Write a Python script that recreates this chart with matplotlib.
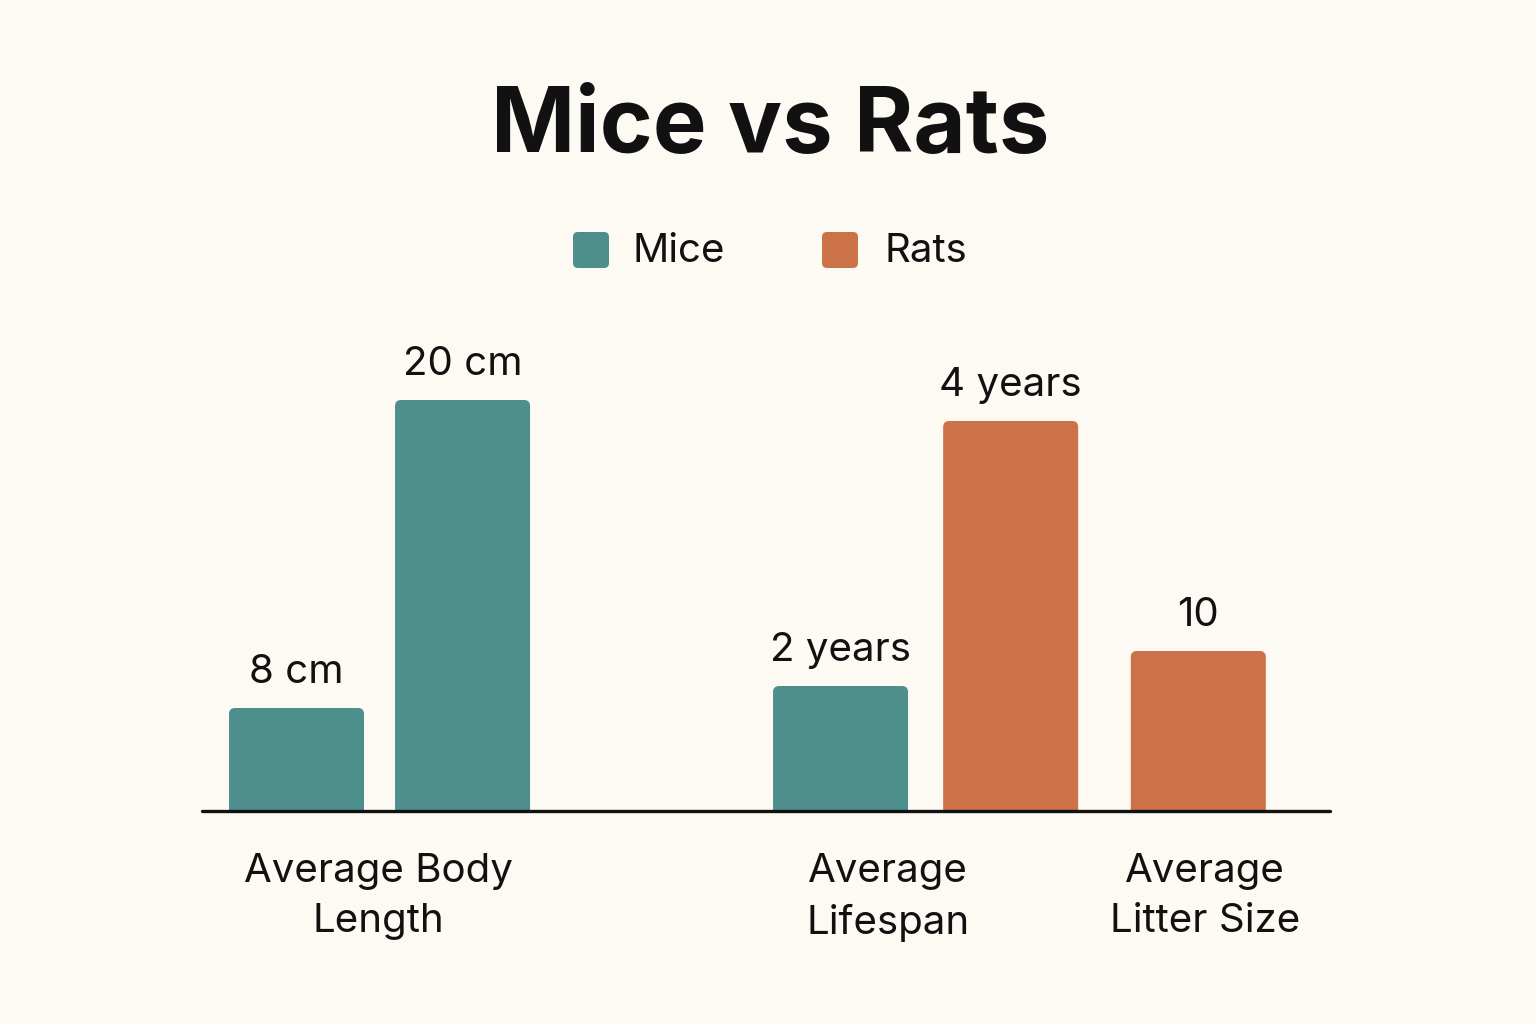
import matplotlib
matplotlib.use('Agg')
import matplotlib.pyplot as plt
from matplotlib.patches import FancyBboxPatch

plt.rcParams['font.family'] = ['Inter', 'DejaVu Sans']

# --- data ---
categories = ['Average Body\nLength', 'Average\nLifespan', 'Average\nLitter Size']
series = ['Mice', 'Rats']
bar_series = ['Mice', 'Mice', 'Mice', 'Rats', 'Rats']
bar_labels = ['8 cm', '20 cm', '2 years', '4 years', '10']
bar_heights = [103, 411, 125, 390, 160]   # drawn heights (not to a common scale)

# --- layout / style ---
BG = '#FDFAF4'
colors = {'Mice': '#4E8F8D', 'Rats': '#CB7249'}
bar_x = [0.70, 1.93, 4.73, 5.99, 7.38]
cat_x = [1.31, 5.08, 7.43]
W, H = 1536, 1024
ax_left, ax_right, ax_base, ax_top = 202, 1330, 811, 300
px_x = 1 / 135.0   # x data units per pixel

fig = plt.figure(figsize=(W / 100, H / 100), dpi=100, facecolor=BG)
ax = fig.add_axes([ax_left / W, 1 - ax_base / H, (ax_right - ax_left) / W, (ax_base - ax_top) / H])
ax.set_facecolor(BG)
ax.set_xlim(0, (ax_right - ax_left) * px_x)
ax.set_ylim(0, ax_base - ax_top)
ax.axis('off')

r = 6
for x, h, s, lab in zip(bar_x, bar_heights, bar_series, bar_labels):
    bars = ax.bar(x, h + 12, bottom=-12, width=1.0, color=colors[s])
    rect = bars[0]
    rect.set_visible(False)
    p = FancyBboxPatch((rect.get_x(), -12), rect.get_width(), h + 12,
                       boxstyle=f'round,pad=0,rounding_size={r * px_x}',
                       mutation_aspect=1 / px_x, fc=colors[s], ec='none')
    ax.add_patch(p)
    ax.text(x, h + 25, lab, ha='center', va='baseline', fontsize=29, color='#111111')

ax.plot([0, (ax_right - ax_left) * px_x], [0, 0], color='#111111', lw=2.4,
        solid_capstyle='round', clip_on=False, zorder=5)

for x, c in zip(cat_x, categories):
    ax.text(x, -42, c, ha='center', va='top', fontsize=29, color='#111111',
            linespacing=1.45, clip_on=False)

fig.text(770 / W, 1 - 152 / H, 'Mice vs Rats', ha='center', va='baseline',
         fontsize=65, fontweight='bold', color='#111111')

# legend drawn by hand
leg_ax = fig.add_axes([0, 0, 1, 1])
leg_ax.set_xlim(0, W)
leg_ax.set_ylim(H, 0)
leg_ax.axis('off')
for s, sx, tx in zip(series, [573, 822], [632, 884]):
    leg_ax.add_patch(FancyBboxPatch((sx, 232), 36, 36,
                                    boxstyle='round,pad=0,rounding_size=5',
                                    fc=colors[s], ec='none'))
    leg_ax.text(tx, 251, s, ha='left', va='center', fontsize=29, color='#111111')

fig.savefig('out.png', dpi=100, facecolor=BG)
